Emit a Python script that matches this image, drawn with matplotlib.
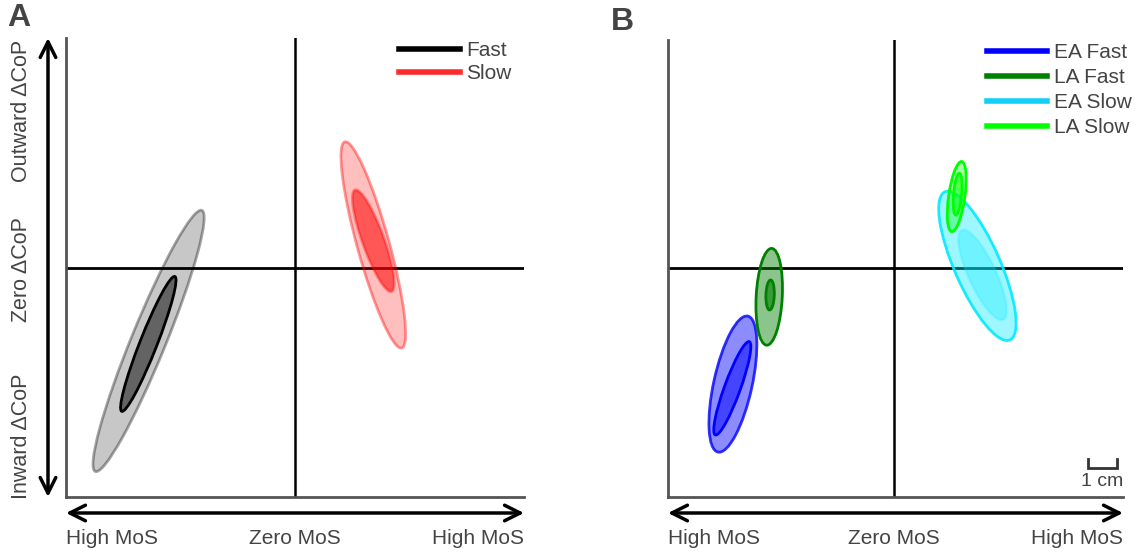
import matplotlib
matplotlib.use("Agg")
import matplotlib.pyplot as plt
from matplotlib.patches import Ellipse, FancyArrowPatch
from matplotlib.lines import Line2D
from matplotlib.colors import to_rgba

plt.rcParams['font.family'] = ['Liberation Sans', 'DejaVu Sans']

# ---------------- data (cm) ----------------
# Panel A
A_names = ['Fast', 'Slow']
A_colors = ['#000000', '#ff0000']
A_legend_colors = ['#000000', '#ff2a2a']
A_out_cx = [-4.88, 2.61]
A_out_cy = [-2.43, 0.77]
A_out_major = [9.4, 7.13]
A_out_minor = [1.15, 1.07]
A_out_angle = [67.8, 105.4]
A_in_cx = [-4.89, 2.61]
A_in_cy = [-2.53, 0.91]
A_in_major = [4.83, 3.6]
A_in_minor = [0.57, 0.73]
A_in_angle = [68.5, 109.8]

# Panel B
B_names = ['EA Fast', 'LA Fast', 'EA Slow', 'LA Slow']
B_colors = ['#0000ff', '#008000', '#00eaff', '#00ff00']
B_legend_colors = ['#0000ff', '#008000', '#10d0f8', '#00ff00']
B_out_cx = [-5.37, -4.16, 2.78, 2.09]
B_out_cy = [-3.87, -0.96, 0.07, 2.38]
B_out_major = [4.64, 3.23, 5.39, 2.36]
B_out_minor = [1.28, 0.87, 1.53, 0.54]
B_out_angle = [77.6, 87.0, 113.7, 81.9]
B_in_cx = [-5.39, -4.13, 2.95, 2.12]
B_in_cy = [-4.01, -0.90, -0.23, 2.46]
B_in_major = [3.31, 1.0, 3.31, 1.4]
B_in_minor = [0.53, 0.28, 0.93, 0.27]
B_in_angle = [70.0, 88.0, 114.9, 85.0]

# styles per series: (outer face alpha, outer edge alpha, inner face alpha, inner edge alpha)
A_alpha = [(0.22, 0.35, 0.5, 1.0), (0.25, 0.4, 0.55, 0.35)]
B_alpha = [(0.45, 0.8, 0.5, 1.0), (0.45, 1.0, 0.6, 1.0), (0.38, 0.9, 0.3, 0.15), (0.35, 1.0, 0.5, 1.0)]

W, H = 1137, 553
fig = plt.figure(figsize=(W / 100, H / 100), dpi=100)
S = 30.0  # px per cm


def fx(x):
    return x / W


def fy(y):
    return 1 - y / H


def make_axes(left, right, top, bottom, cxp, cyp):
    ax = fig.add_axes([fx(left), fy(bottom), (right - left) / W, (bottom - top) / H])
    ax.set_xlim(-(cxp - left) / S, (right - cxp) / S)
    ax.set_ylim(-(bottom - cyp) / S, (cyp - top) / S)
    for s in ['top', 'right']:
        ax.spines[s].set_visible(False)
    for s in ['left', 'bottom']:
        ax.spines[s].set_color('#555555')
        ax.spines[s].set_linewidth(2)
    ax.set_xticks([])
    ax.set_yticks([])
    ax.axhline(0, color='black', lw=2, zorder=1)
    ax.axvline(0, color='black', lw=1.8, zorder=1)
    return ax


def draw(ax, cx, cy, maj, mino, ang, c, a, inner, z):
    fa, ea = (a[2], a[3]) if inner else (a[0], a[1])
    e = Ellipse((cx, cy), maj, mino, angle=ang,
                facecolor=to_rgba(c, fa), edgecolor=to_rgba(c, ea),
                lw=2, zorder=z)
    ax.add_patch(e)


axA = make_axes(66, 524, 38, 497, 295, 268)
axB = make_axes(668, 1123, 40, 497, 894, 268)

for i in range(len(A_names)):
    draw(axA, A_out_cx[i], A_out_cy[i], A_out_major[i], A_out_minor[i], A_out_angle[i],
         A_colors[i], A_alpha[i], False, 2 + 2 * i)
    draw(axA, A_in_cx[i], A_in_cy[i], A_in_major[i], A_in_minor[i], A_in_angle[i],
         A_colors[i], A_alpha[i], True, 3 + 2 * i)
for i in range(len(B_names)):
    draw(axB, B_out_cx[i], B_out_cy[i], B_out_major[i], B_out_minor[i], B_out_angle[i],
         B_colors[i], B_alpha[i], False, 2 + 2 * i)
    draw(axB, B_in_cx[i], B_in_cy[i], B_in_major[i], B_in_minor[i], B_in_angle[i],
         B_colors[i], B_alpha[i], True, 3 + 2 * i)

txt = '#444444'
axA.legend([Line2D([], [], color=c, lw=4) for c in A_legend_colors], A_names,
           loc='upper right', bbox_to_anchor=(1.0, 1.02), frameon=False, fontsize=15,
           handlelength=2.9, handletextpad=0.3, labelspacing=0.2, borderaxespad=0.2,
           labelcolor=txt)
axB.legend([Line2D([], [], color=c, lw=4) for c in B_legend_colors], B_names,
           loc='upper right', bbox_to_anchor=(1.046, 1.02), frameon=False, fontsize=15,
           handlelength=2.9, handletextpad=0.3, labelspacing=0.28, borderaxespad=0.2,
           labelcolor=txt)

# arrows
ap = dict(arrowstyle='<->', lw=2.5, color='black', mutation_scale=28,
          shrinkA=0, shrinkB=0)
fig.add_artist(FancyArrowPatch((fx(48), fy(38)), (fx(48), fy(497)),
               transform=fig.transFigure, **ap))
fig.add_artist(FancyArrowPatch((fx(66), fy(513)), (fx(524), fy(513)),
               transform=fig.transFigure, **ap))
fig.add_artist(FancyArrowPatch((fx(668), fy(513)), (fx(1123), fy(513)),
               transform=fig.transFigure, **ap))

# texts
fs = 15
for (x, y, s) in [(22, 111, 'Outward ΔCoP'), (22, 270, 'Zero ΔCoP'), (22, 436, 'Inward ΔCoP')]:
    fig.text(fx(x), fy(y), s, rotation=90, ha='center', va='center', fontsize=15.5, color=txt)
for (x0, x1, xc) in [(66, 524, 295), (668, 1123, 894)]:
    fig.text(fx(x0), fy(538), 'High MoS', ha='left', va='center', fontsize=fs, color=txt)
    fig.text(fx(xc), fy(538), 'Zero MoS', ha='center', va='center', fontsize=fs, color=txt)
    fig.text(fx(x1), fy(538), 'High MoS', ha='right', va='center', fontsize=fs, color=txt)

fig.text(fx(7), fy(18), 'A', fontsize=23, fontweight='bold', color=txt, ha='left', va='center')
fig.text(fx(611), fy(22), 'B', fontsize=23, fontweight='bold', color=txt, ha='left', va='center')

# scale bar (1 cm)
axB.plot([6.47, 6.47, 7.43, 7.43], [-6.37, -6.67, -6.67, -6.37], color='#333333', lw=2,
         solid_joinstyle='miter', clip_on=False, zorder=10)
axB.text(6.95, -6.85, '1 cm', ha='center', va='top', fontsize=14, color=txt)

fig.savefig('out.png', dpi=100)
